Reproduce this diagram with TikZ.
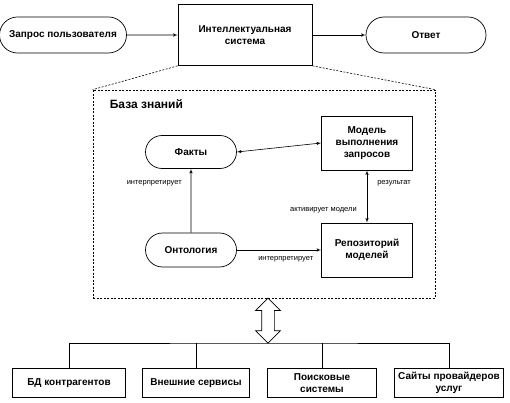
\documentclass[tikz,border=0pt]{standalone}
\usepackage{fontspec}
\setmainfont{Liberation Sans}
\usetikzlibrary{arrows,shapes.misc,shapes.arrows,calc,positioning}

\newcommand{\boxfont}{\bfseries\fontsize{10}{12}\selectfont}
\newcommand{\notefont}{\fontsize{7.5}{8}\selectfont}

\tikzset{
	term/.style = {rounded rectangle, draw, line width=0.7pt, font=\boxfont,
		align=center, inner sep=0pt, minimum height=36pt},
	block/.style = {rectangle, draw, line width=0.7pt, font=\boxfont,
		align=center, inner sep=0pt},
	sub/.style = {block, minimum height=29pt},
	line/.style = {draw, line width=0.6pt, -latex'},
	dline/.style = {draw, line width=0.6pt, latex'-latex'},
	link/.style = {draw, line width=0.6pt},
	zoomline/.style = {draw, line width=0.6pt, dash pattern=on 2pt off 1.5pt},
	frame/.style = {rectangle, draw, line width=0.7pt, dash pattern=on 2pt off 1.5pt, inner sep=0pt},
	note/.style = {font=\notefont, inner sep=0pt},
	bigarrow/.style = {double arrow, draw, line width=0.7pt, fill=white, inner sep=6pt,
		double arrow head extend=6pt}
}

\begin{document}
\begin{tikzpicture}[x=1pt, y=-1pt]
		\useasboundingbox (0,0) rectangle (510,403);
		
		%top row
		\node [term, minimum width=127pt] (req) at (63,35) {Запрос пользователя};
		\node [block, right of = req, node distance = 182pt, minimum width=134pt, minimum height=61pt] (sys) {Интеллектуальная\\система};
		\node [term, right of = sys, node distance = 181pt, minimum width=120pt] (ans) {Ответ};
		
		\path [line] (req) -- (sys);
		\path [line] (sys) -- (ans);
		
		%knowledge base
		\node [frame, minimum width=342pt, minimum height=208pt] (kb) at (264,194) {};
		\node [inner sep=0pt, anchor=west, font=\bfseries\fontsize{12}{14}\selectfont] (kbname) at ($(kb.north west)+(17,14)$) {База знаний};
		
		\path [zoomline] (sys.south west) -- (kb.north west);
		\path [zoomline] (sys.south east) -- (kb.north east);
		
		\node [term, minimum width=91pt, minimum height=33pt] (facts) at (191,152) {Факты};
		\node [block, minimum width=91pt, minimum height=54pt] (model) at (367,143) {Модель\\выполнения\\запросов};
		\node [term, below of = facts, node distance = 98pt, minimum width=91pt, minimum height=34pt] (onto) {Онтология};
		\node [block, right of = onto, node distance = 176pt, minimum width=91pt, minimum height=54pt] (repo) {Репозиторий\\моделей};
		
		\path [dline] (facts.east) -- (model.west);
		\path [line] (onto) -- node [note, pos=0.77, left=9pt] {интерпретирует} (facts);
		\path [dline] (model) -- node [note, pos=0.24, right=10pt] {результат}
			node [note, pos=0.76, left=10pt] {активирует модели} (repo);
		\path [line] (onto.east) -- node [note, pos=0.58, below=6pt] {интерпретирует} (onto.east -| repo.west);
		
		%external sources
		\node [sub, minimum width=113pt] (b1) at (69,383) {БД контрагентов};
		\node [sub, right of = b1, node distance = 127pt, minimum width=107pt] (b2) {Внешние сервисы};
		\node [sub, right of = b2, node distance = 126pt, minimum width=109pt] (b3) {Поисковые\\системы};
		\node [sub, right of = b3, node distance = 127pt, minimum width=109pt] (b4) {Сайты провайдеров\\услуг};
		
		\coordinate (bus) at (268,343);
		\path [link] (b1.north) |- (bus) -| (b4.north);
		\path [link] (b2.north) -- (b2.north |- bus);
		\path [link] (b3.north) -- (b3.north |- bus);
		
		\node [bigarrow, rotate=90, minimum height=45pt] (dbl) at ($(kb.south -| bus)!0.5!(bus)$) {};
		
	\end{tikzpicture}
\end{document}
